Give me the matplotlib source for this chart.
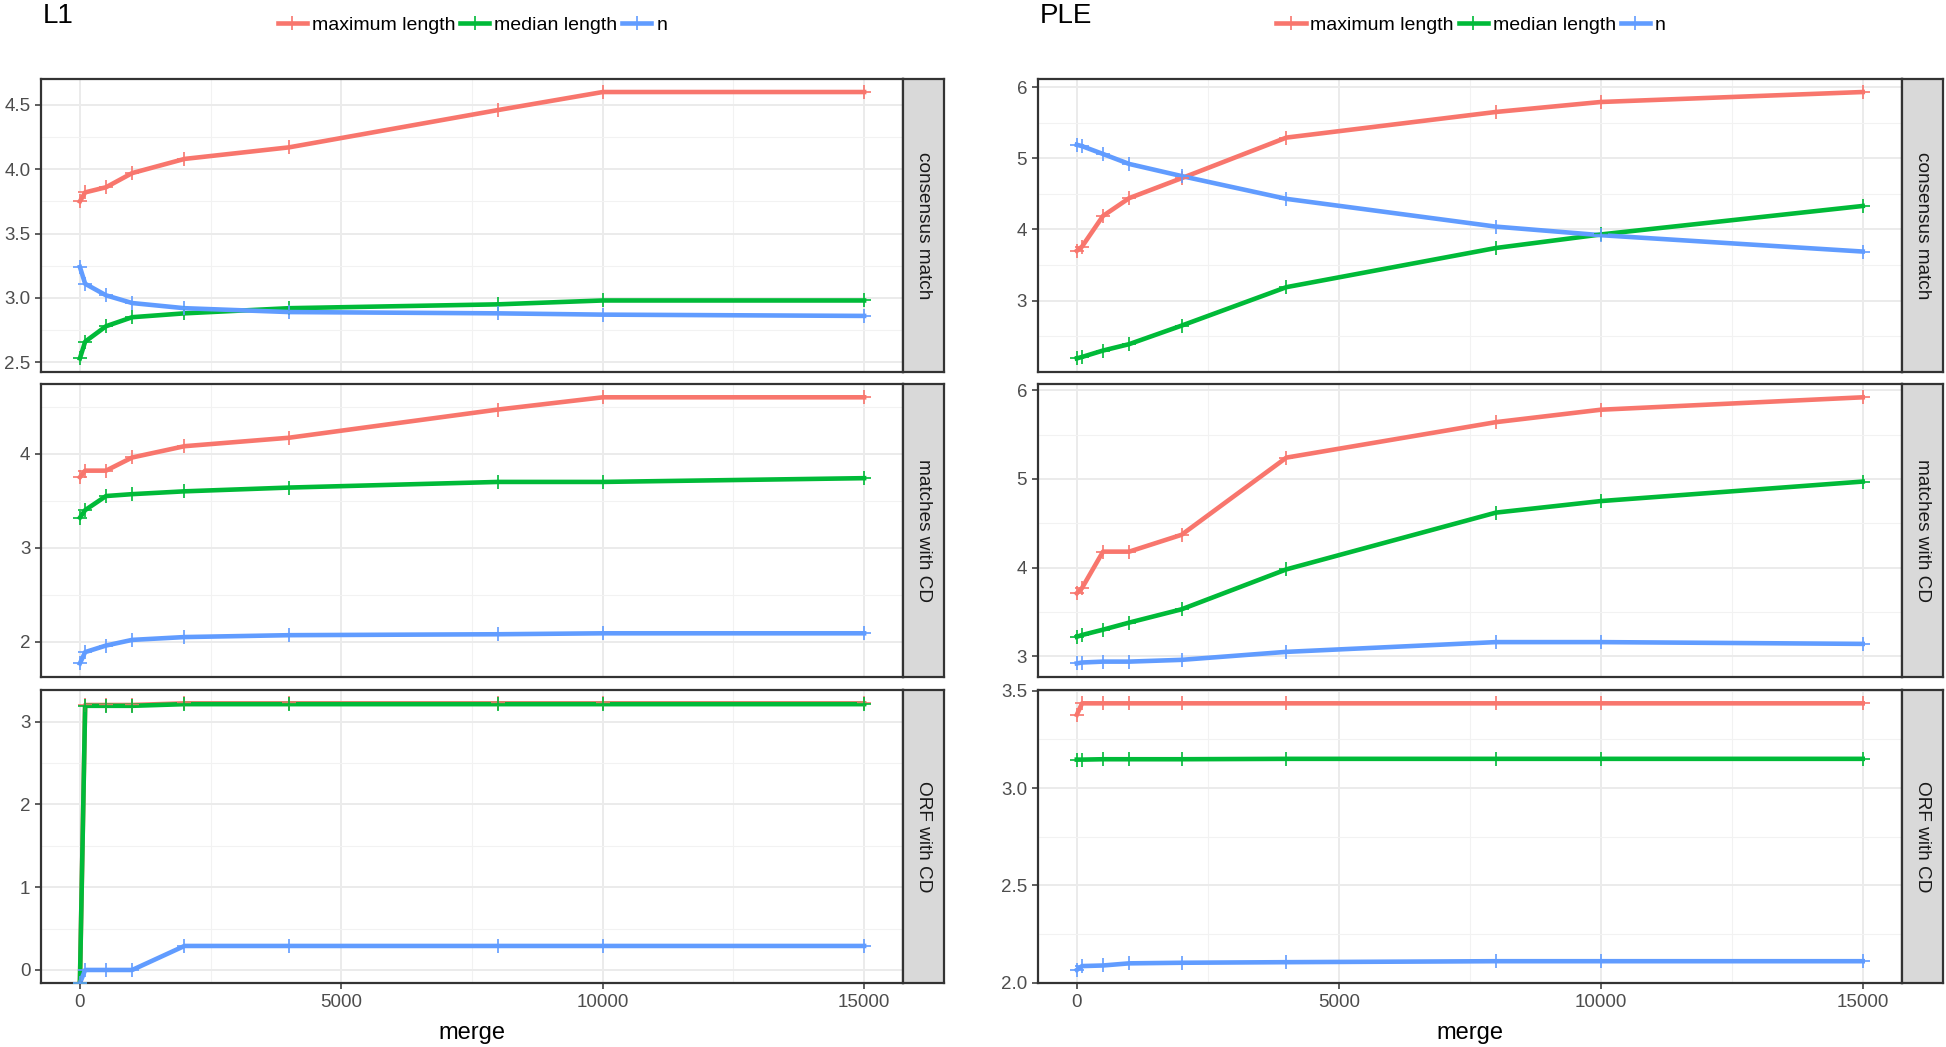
import numpy as np
import matplotlib
matplotlib.use("Agg")
from matplotlib import pyplot as plt
from matplotlib.lines import Line2D

# %% Data
merge = [0, 100, 500, 1000, 2000, 4000, 8000, 10000, 15000]
series = ["maximum length", "median length", "n"]
facets = ["consensus match", "matches with CD", "ORF with CD"]
titles = ["L1", "PLE"]
colors = ["#F8766D", "#00BA38", "#619CFF"]
NEG_INF = float("-inf")

# L1
l1_consensus_max = [3.75, 3.82, 3.86, 3.97, 4.08, 4.17, 4.46, 4.60, 4.60]
l1_consensus_med = [2.53, 2.66, 2.78, 2.85, 2.88, 2.92, 2.95, 2.98, 2.98]
l1_consensus_n = [3.24, 3.11, 3.02, 2.96, 2.92, 2.89, 2.88, 2.87, 2.86]
l1_matches_max = [3.75, 3.82, 3.82, 3.96, 4.08, 4.17, 4.47, 4.60, 4.60]
l1_matches_med = [3.32, 3.40, 3.55, 3.57, 3.60, 3.64, 3.70, 3.70, 3.74]
l1_matches_n = [1.77, 1.89, 1.96, 2.02, 2.05, 2.07, 2.08, 2.09, 2.09]
l1_orf_max = [NEG_INF, 3.20, 3.20, 3.20, 3.22, 3.22, 3.22, 3.22, 3.22]
l1_orf_med = [NEG_INF, 3.19, 3.19, 3.19, 3.21, 3.21, 3.21, 3.21, 3.21]
l1_orf_n = [NEG_INF, 0.0, 0.0, 0.0, 0.29, 0.29, 0.29, 0.29, 0.29]

# PLE
ple_consensus_max = [3.70, 3.76, 4.19, 4.44, 4.72, 5.29, 5.65, 5.79, 5.93]
ple_consensus_med = [2.19, 2.21, 2.30, 2.39, 2.65, 3.19, 3.74, 3.93, 4.33]
ple_consensus_n = [5.19, 5.17, 5.06, 4.92, 4.75, 4.43, 4.04, 3.92, 3.69]
ple_matches_max = [3.71, 3.77, 4.18, 4.18, 4.37, 5.24, 5.64, 5.78, 5.92]
ple_matches_med = [3.22, 3.24, 3.30, 3.38, 3.53, 3.98, 4.62, 4.75, 4.97]
ple_matches_n = [2.92, 2.93, 2.94, 2.94, 2.96, 3.05, 3.16, 3.16, 3.14]
ple_orf_max = [3.376, 3.435, 3.435, 3.435, 3.435, 3.435, 3.435, 3.435, 3.435]
ple_orf_med = [3.146, 3.146, 3.148, 3.148, 3.148, 3.15, 3.15, 3.15, 3.15]
ple_orf_n = [2.066, 2.086, 2.089, 2.10, 2.103, 2.106, 2.111, 2.111, 2.111]

l1_yticks = [[2.5, 3.0, 3.5, 4.0, 4.5], [2, 3, 4], [0, 1, 2, 3]]
ple_yticks = [[3, 4, 5, 6], [3, 4, 5, 6], [2.0, 2.5, 3.0, 3.5]]
l1_yfmt = ["%.1f", "%d", "%d"]
ple_yfmt = ["%d", "%d", "%.1f"]
xticks = [0, 5000, 10000, 15000]

plots = [
    [[l1_consensus_max, l1_consensus_med, l1_consensus_n],
     [l1_matches_max, l1_matches_med, l1_matches_n],
     [l1_orf_max, l1_orf_med, l1_orf_n]],
    [[ple_consensus_max, ple_consensus_med, ple_consensus_n],
     [ple_matches_max, ple_matches_med, ple_matches_n],
     [ple_orf_max, ple_orf_med, ple_orf_n]],
]
yticks_all = [l1_yticks, ple_yticks]
yfmt_all = [l1_yfmt, ple_yfmt]

plt.rcParams["font.family"] = ["Liberation Sans", "DejaVu Sans"]

# %% Layout (pixels)
W, H = 1946, 1047
def box(x0, y0, x1, y1):
    return [x0 / W, 1 - y1 / H, (x1 - x0) / W, (y1 - y0) / H]

cols = [(40.7, 903.3, 943.5), (1037.5, 1902, 1942.5)]
rows = [(78.7, 371.7), (384, 676.7), (690, 983.3)]
legend_cx = [472.5, 1471]

LW = 3.3
MS = 10
MEW = 1.2

fig = plt.figure(figsize=(W / 100, H / 100), dpi=100)
fig.patch.set_facecolor("white")

for c, (x0, x1, xs) in enumerate(cols):
    for r, (y0, y1) in enumerate(rows):
        ax = fig.add_axes(box(x0, y0, x1, y1))
        data = plots[c][r]
        finite = np.concatenate([np.array(d)[np.isfinite(d)] for d in data])
        lo, hi = finite.min(), finite.max()
        pad = 0.05 * (hi - lo)
        ylo, yhi = lo - pad, hi + pad
        # lines first, then points on top (ggplot layer order)
        for ys, col in zip(data, colors):
            y = np.array(ys, dtype=float)
            y = np.where(np.isinf(y), ylo, y)
            ax.plot(merge, y, color=col, lw=LW, zorder=2)
        for ys, col in zip(data, colors):
            y = np.array(ys, dtype=float)
            y = np.where(np.isinf(y), ylo, y)
            ax.plot(merge, y, ls="none", marker="+", ms=MS, mew=MEW,
                    color=col, zorder=3)
        yt = yticks_all[c][r]
        step = yt[1] - yt[0]
        ax.set_yticks(yt)
        ax.set_yticklabels([yfmt_all[c][r] % v for v in yt])
        ax.set_yticks([v + step / 2 for v in [yt[0] - step] + yt], minor=True)
        ax.set_xticks(xticks)
        ax.set_xticks([2500, 7500, 12500], minor=True)
        # limits after ticks, so the ticks do not widen the view
        ax.set_xlim(-750, 15750)
        ax.set_ylim(ylo, yhi)
        ax.grid(which="major", color="#EBEBEB", lw=1.4, zorder=0)
        ax.grid(which="minor", color="#F2F2F2", lw=0.8, zorder=0)
        ax.set_axisbelow(True)
        for s in ax.spines.values():
            s.set_color("#333333")
            s.set_linewidth(1.6)
        ax.tick_params(which="major", direction="out", length=4.5, width=1.1,
                       color="#333333", labelcolor="#4D4D4D", labelsize=13.5, pad=3)
        ax.tick_params(which="minor", length=0)
        if r < 2:
            ax.tick_params(axis="x", bottom=False, labelbottom=False)
        else:
            ax.set_xticklabels([str(v) for v in xticks])
            ax.set_xlabel("merge", fontsize=17, labelpad=8)

        # facet strip
        sx = fig.add_axes(box(x1, y0, xs, y1))
        sx.set_facecolor("#D9D9D9")
        sx.set_xticks([])
        sx.set_yticks([])
        for s in sx.spines.values():
            s.set_color("#333333")
            s.set_linewidth(1.6)
        sx.text(0.5, 0.5, facets[r], rotation=270, ha="center", va="center",
                fontsize=13.7, color="#1A1A1A", transform=sx.transAxes)

    fig.text((x0 + 2) / W, 1 - 16 / H, titles[c], fontsize=20, ha="left", va="center")
    handles = [Line2D([], [], color=col, lw=LW, marker="+", ms=MS, mew=MEW)
               for col in colors]
    fig.legend(handles, series, loc="center",
               bbox_to_anchor=(legend_cx[c] / W, 1 - 25.5 / H), ncol=3,
               frameon=False, fontsize=14, handlelength=1.5, handletextpad=0.25,
               columnspacing=0.25, borderpad=0)

plt.savefig("out.png", dpi=100)
plt.close(fig)
